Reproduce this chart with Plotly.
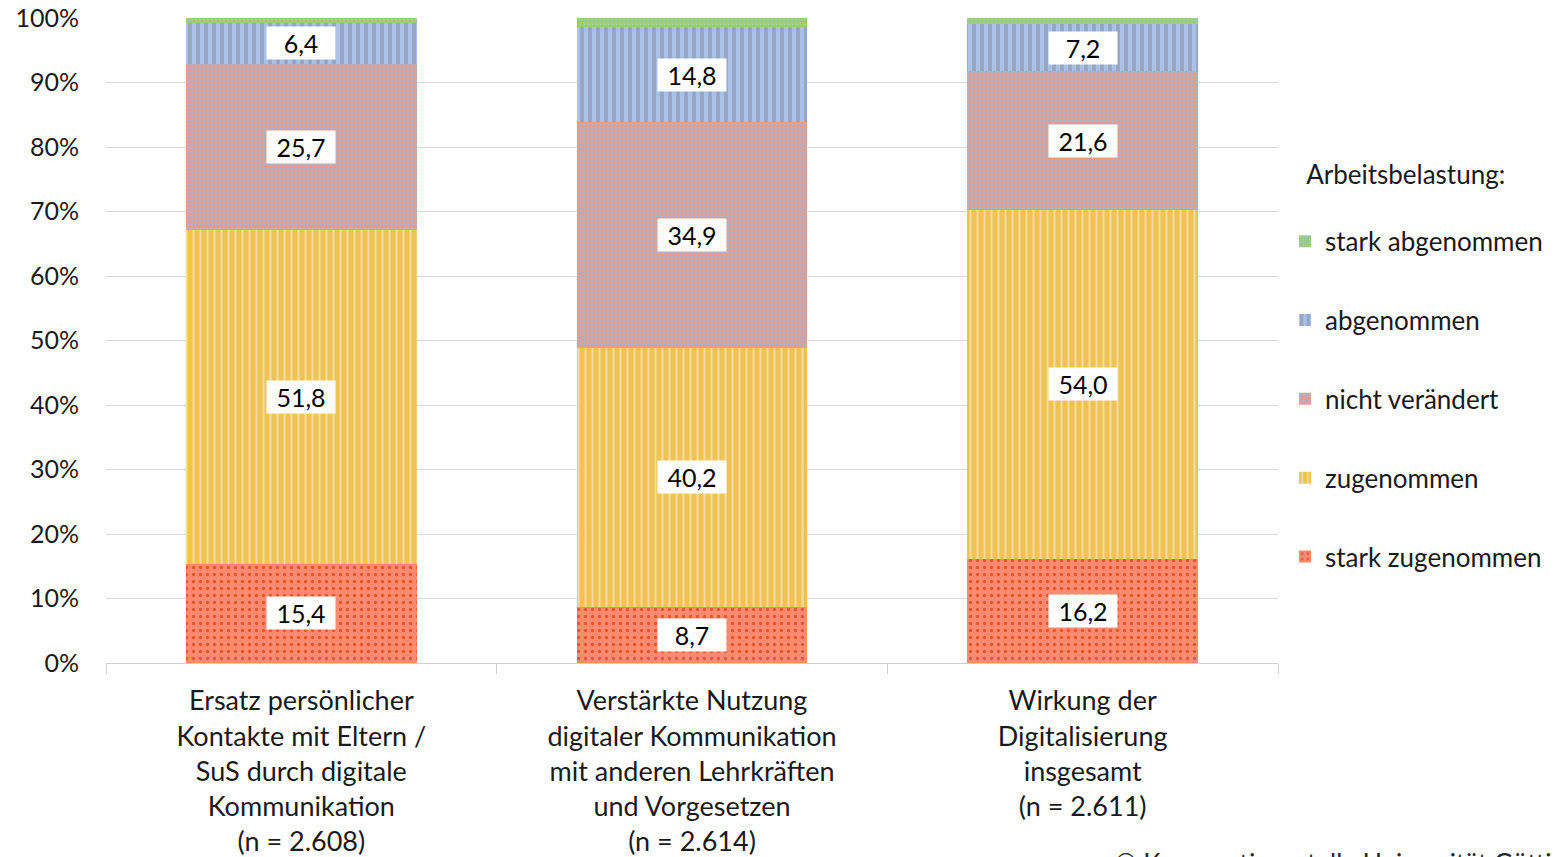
import plotly.graph_objects as go

categories = [
    "Ersatz persönlicher<br>Kontakte mit Eltern /<br>SuS durch digitale<br>Kommunikation<br>(n = 2.608)",
    "Verstärkte Nutzung<br>digitaler Kommunikation<br>mit anderen Lehrkräften<br>und Vorgesetzen<br>(n = 2.614)",
    "Wirkung der<br>Digitalisierung<br>insgesamt<br>(n = 2.611)",
]

stark_zugenommen = [15.4, 8.7, 16.2]
zugenommen = [51.8, 40.2, 54.0]
nicht_veraendert = [25.7, 34.9, 21.6]
abgenommen = [6.4, 14.8, 7.2]
stark_abgenommen = [0.7, 1.4, 1.0]

series_names = ["stark zugenommen", "zugenommen", "nicht verändert", "abgenommen", "stark abgenommen"]
series_values = [stark_zugenommen, zugenommen, nicht_veraendert, abgenommen, stark_abgenommen]
labelled = [True, True, True, True, False]

y_ticks = [0, 10, 20, 30, 40, 50, 60, 70, 80, 90, 100]
y_tick_text = [f"{t}%" for t in y_ticks]

FONT = "Lato"
TXT = "#1a1a1a"

patterns = [
    dict(shape=".", bgcolor="#fb8a6e", fgcolor="#e4552c", size=7, solidity=0.18),
    dict(shape="|", bgcolor="#f0c452", fgcolor="#f9dca4", size=7, solidity=0.28),
    dict(shape=".", bgcolor="#ec9a86", fgcolor="#a9b3cf", size=4, solidity=0.5),
    dict(shape="|", bgcolor="#aac0e6", fgcolor="#94a4c2", size=8, solidity=0.45),
    dict(shape=".", bgcolor="#92cf6c", fgcolor="#a9c8a4", size=4, solidity=0.4),
]

fig = go.Figure()
n_series = len(series_names)
for i, (name, vals) in enumerate(zip(series_names, series_values)):
    fig.add_trace(go.Bar(
        x=categories, y=vals, name=name, legendgroup=name,
        legendrank=n_series - i,
        marker=dict(pattern=dict(fillmode="replace", **patterns[i]), line=dict(width=0)),
        width=0.59, hoverinfo="skip",
    ))

# value boxes centred in each segment
annotations = []
for ci, cat in enumerate(categories):
    base = 0.0
    for si, vals in enumerate(series_values):
        v = vals[ci]
        if labelled[si]:
            annotations.append(dict(
                x=cat, y=base + v / 2, xref="x", yref="y",
                text=f"{v:.1f}".replace(".", ","), showarrow=False,
                font=dict(family=FONT, size=25, color="#000000"),
                bgcolor="#ffffff", borderpad=1, width=66,
            ))
        base += v

annotations.append(dict(
    x=(1113 - 106) / 1172, y=-0.31, xref="paper", yref="paper",
    xanchor="left", yanchor="middle", showarrow=False,
    text="© Kooperationsstelle Universität Göttingen",
    font=dict(family=FONT, size=26, color="#262626"),
))

fig.update_layout(
    width=1555, height=857,
    margin=dict(l=106, r=277, t=18, b=194, autoexpand=False),
    paper_bgcolor="#ffffff", plot_bgcolor="#ffffff",
    barmode="stack", bargap=0.41,
    font=dict(family=FONT, size=26, color=TXT),
    annotations=annotations,
    showlegend=True,
    legend=dict(
        x=1.006, y=0.795, xanchor="left", yanchor="top",
        traceorder="grouped", tracegroupgap=42,
        title=dict(text="&nbsp;&nbsp;&nbsp;Arbeitsbelastung:<br> ",
                   font=dict(family=FONT, size=26, color=TXT)),
        font=dict(family=FONT, size=26, color=TXT),
        itemwidth=30, bgcolor="rgba(0,0,0,0)",
    ),
    xaxis=dict(
        automargin=False,
        showgrid=False, showline=True, linecolor="#d0d0d0", linewidth=1,
        ticks="outside", tickson="boundaries", ticklen=10, tickcolor="#d0d0d0",
        ticklabelstandoff=14,
        tickfont=dict(family=FONT, size=27, color=TXT),
    ),
    yaxis=dict(
        automargin=False,
        range=[0, 100], tickmode="array", tickvals=y_ticks, ticktext=y_tick_text,
        showgrid=True, gridcolor="#d9d9d9", gridwidth=1,
        zeroline=False, showline=False, ticks="",
        ticklabelstandoff=26,
        tickfont=dict(family=FONT, size=25, color=TXT),
    ),
)

fig.write_html("out.html")
